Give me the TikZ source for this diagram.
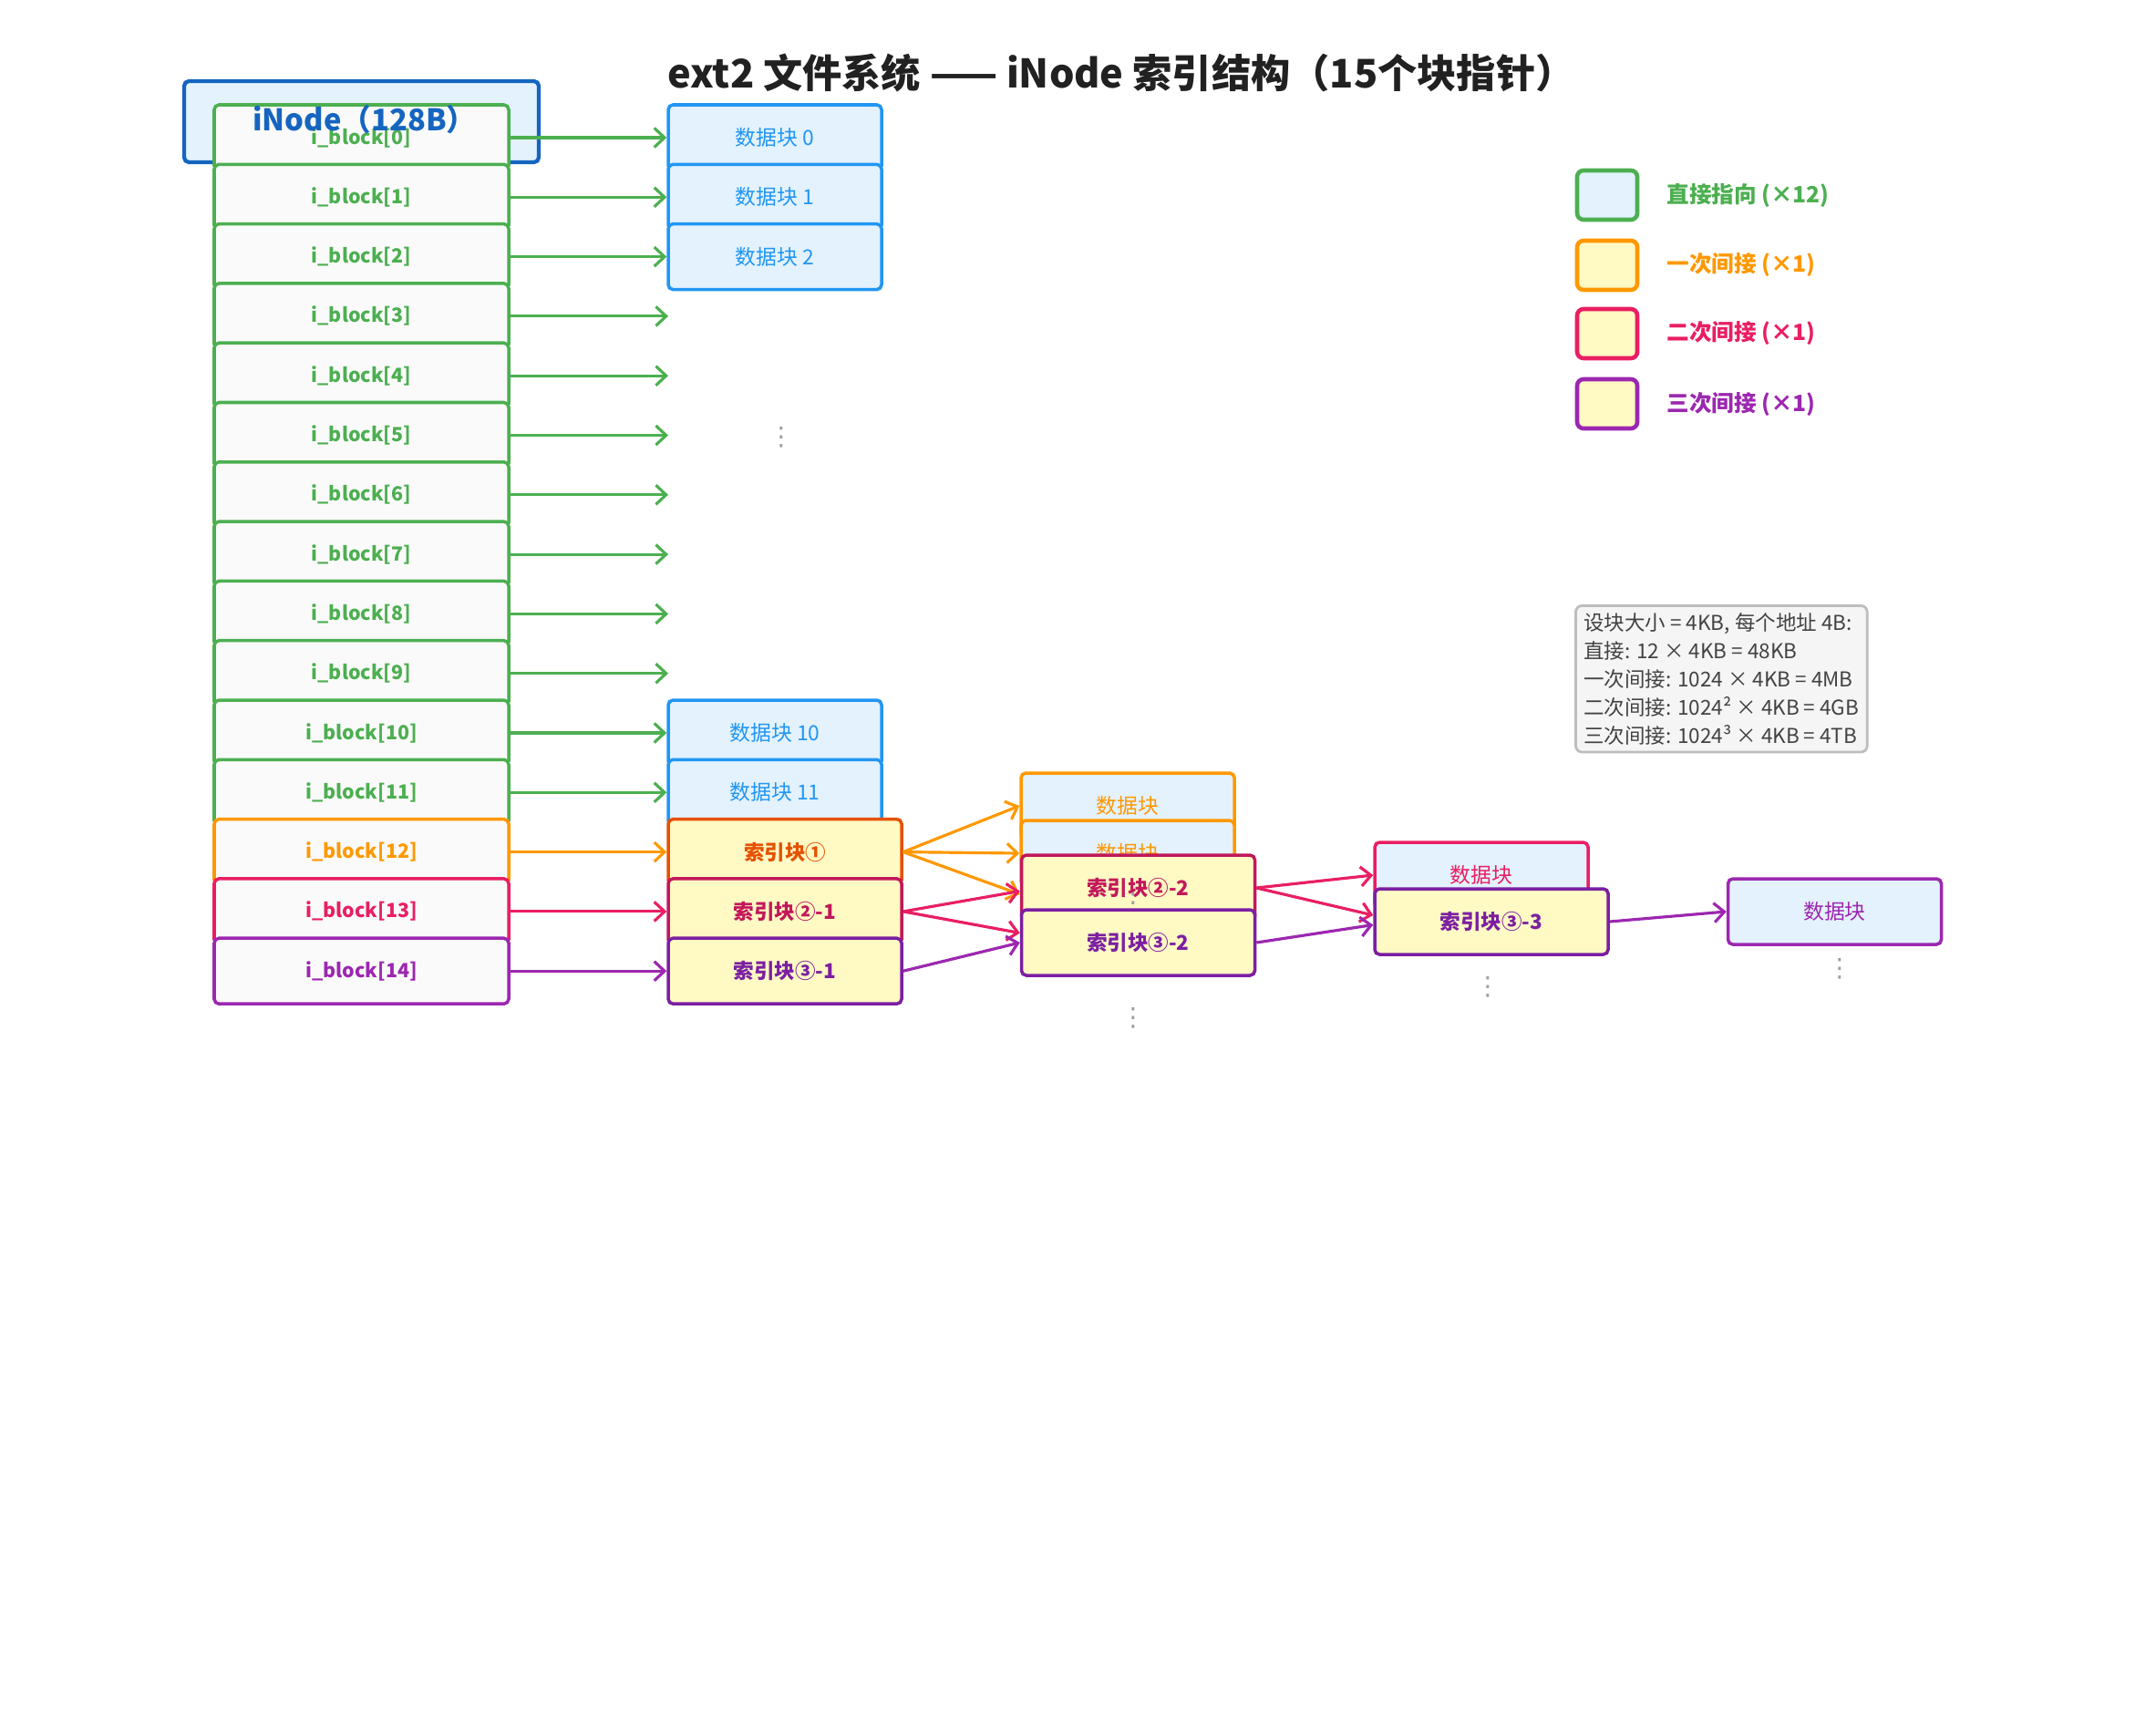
\documentclass[tikz,border=0pt]{standalone}
\usepackage{fontspec}
\setmainfont{Noto Sans CJK SC}
\newfontfamily\dotsfont{DejaVu Sans}
\usetikzlibrary{arrows.meta}

\definecolor{cgreen}{HTML}{4CAF50}
\definecolor{cblue}{HTML}{2196F3}
\definecolor{inodec}{HTML}{1565C0}
\definecolor{corange}{HTML}{FF9800}
\definecolor{dorange}{HTML}{E65100}
\definecolor{cpink}{HTML}{E91E63}
\definecolor{dpink}{HTML}{C2185B}
\definecolor{cpurple}{HTML}{9C27B0}
\definecolor{dpurple}{HTML}{7B1FA2}
\definecolor{databg}{HTML}{E3F2FD}
\definecolor{idxbg}{HTML}{FFF9C4}
\definecolor{slotbg}{HTML}{FAFAFA}
\definecolor{infobg}{HTML}{F5F5F5}
\definecolor{infob}{HTML}{BDBDBD}
\definecolor{infot}{HTML}{424242}
\definecolor{titlec}{HTML}{212121}
\definecolor{dotc}{HTML}{9E9E9E}

\begin{document}
\begin{tikzpicture}
\tikzstyle{box}=[draw, rounded corners=1.5pt, line width=1pt, minimum height=0.72cm, inner sep=0pt]
\tikzstyle{slot}=[box, fill=slotbg, minimum width=3.23cm, font=\fontsize{6.1}{7}\selectfont\bfseries]
\tikzstyle{direct}=[slot, draw=cgreen, text=cgreen]
\tikzstyle{data}=[box, fill=databg, draw=cblue, text=cblue, minimum width=2.34cm, font=\fontsize{6.5}{7.5}\selectfont]
\tikzstyle{index}=[box, fill=idxbg, minimum width=2.56cm, font=\fontsize{6.4}{7.5}\selectfont\bfseries]
\tikzstyle{arr}=[-{Straight Barb[length=3.2pt,width=6pt]}, line width=0.9pt]
\tikzstyle{vdots}=[text=dotc, font=\dotsfont\fontsize{8}{8}\selectfont]
\tikzstyle{legbox}=[draw, rounded corners=2pt, line width=1.3pt, minimum width=0.66cm, minimum height=0.54cm]
\tikzstyle{legtxt}=[anchor=west, font=\fontsize{7}{8.5}\selectfont\bfseries]

\useasboundingbox (0,0) rectangle (23.65,-18.88);

\node[font=\fontsize{12.3}{14}\selectfont\bfseries, text=titlec] (title) at (12.30,-0.80) {ext2 文件系统 —— iNode 索引结构（15个块指针）};

% inode and its 15 pointers
\node[box, draw=inodec, fill=databg, line width=1.2pt, minimum width=3.89cm, minimum height=0.89cm] (inode) at (3.965,-1.335) {};
\node[direct] (blk0) at (3.965,-1.510) {i\_block[0]};
\node[direct] (blk1) at (3.965,-2.163) {i\_block[1]};
\node[direct] (blk2) at (3.965,-2.816) {i\_block[2]};
\node[direct] (blk3) at (3.965,-3.469) {i\_block[3]};
\node[direct] (blk4) at (3.965,-4.122) {i\_block[4]};
\node[direct] (blk5) at (3.965,-4.775) {i\_block[5]};
\node[direct] (blk6) at (3.965,-5.428) {i\_block[6]};
\node[direct] (blk7) at (3.965,-6.081) {i\_block[7]};
\node[direct] (blk8) at (3.965,-6.734) {i\_block[8]};
\node[direct] (blk9) at (3.965,-7.387) {i\_block[9]};
\node[direct] (blk10) at (3.965,-8.040) {i\_block[10]};
\node[direct] (blk11) at (3.965,-8.693) {i\_block[11]};
\node[slot, draw=corange, text=corange] (blk12) at (3.965,-9.346) {i\_block[12]};
\node[slot, draw=cpink, text=cpink] (blk13) at (3.965,-9.999) {i\_block[13]};
\node[slot, draw=cpurple, text=cpurple] (blk14) at (3.965,-10.652) {i\_block[14]};
\node[text=inodec, font=\fontsize{9.3}{11}\selectfont\bfseries] (inodetxt) at (4.0,-1.31) {iNode（128B）};

% first level
\node[data] (dat0) at (8.50,-1.510) {数据块 0};
\node[data] (dat1) at (8.50,-2.163) {数据块 1};
\node[data] (dat2) at (8.50,-2.816) {数据块 2};
\coordinate (end3) at (7.33,-3.469); \coordinate (end4) at (7.33,-4.122); \coordinate (end5) at (7.33,-4.775); \coordinate (end6) at (7.33,-5.428);
\coordinate (end7) at (7.33,-6.081); \coordinate (end8) at (7.33,-6.734); \coordinate (end9) at (7.33,-7.387);
\node[vdots] (dots1) at (8.57,-4.80) {⋮};
\node[data] (dat10) at (8.50,-8.040) {数据块 10};
\node[data] (dat11) at (8.50,-8.693) {数据块 11};
\node[index, draw=dorange, text=dorange] (idx1) at (8.61,-9.346) {索引块①};
\node[index, draw=dpink, text=dpink] (idx21) at (8.61,-9.999) {索引块②-1};
\node[index, draw=dpurple, text=dpurple] (idx31) at (8.61,-10.652) {索引块③-1};

% second level
\node[data, draw=corange, text=corange] (dat1a) at (12.37,-8.84) {数据块};
\node[data, draw=corange, text=corange] (dat1b) at (12.37,-9.36) {数据块};
\node[index, draw=dpink, text=dpink] (idx22) at (12.485,-9.74) {索引块②-2};
\node[vdots] (dots2) at (12.43,-9.91) {⋮};
\node[index, draw=dpurple, text=dpurple] (idx32) at (12.485,-10.34) {索引块③-2};
\node[vdots] (dots3) at (12.43,-11.17) {⋮};

% third and fourth level
\node[data, draw=cpink, text=cpink] (dat2a) at (16.25,-9.60) {数据块};
\node[index, draw=dpurple, text=dpurple] (idx33) at (16.36,-10.11) {索引块③-3};
\node[vdots] (dots4) at (16.32,-10.83) {⋮};
\node[data, draw=cpurple, text=cpurple] (dat3a) at (20.125,-10.00) {数据块};
\node[vdots] (dots5) at (20.18,-10.63) {⋮};

% pointers
\draw[arr, cgreen] (blk0) -- (dat0);
\draw[arr, cgreen] (blk1) -- (dat1);
\draw[arr, cgreen] (blk2) -- (dat2);
\draw[arr, cgreen] (blk3) -- (end3);
\draw[arr, cgreen] (blk4) -- (end4);
\draw[arr, cgreen] (blk5) -- (end5);
\draw[arr, cgreen] (blk6) -- (end6);
\draw[arr, cgreen] (blk7) -- (end7);
\draw[arr, cgreen] (blk8) -- (end8);
\draw[arr, cgreen] (blk9) -- (end9);
\draw[arr, cgreen] (blk10) -- (dat10);
\draw[arr, cgreen] (blk11) -- (dat11);
\draw[arr, corange] (blk12) -- (idx1);
\draw[arr, cpink] (blk13) -- (idx21);
\draw[arr, cpurple] (blk14) -- (idx31);
\draw[arr, corange] (idx1.east) -- (dat1a.west);
\draw[arr, corange] (idx1.east) -- (dat1b.west);
\draw[arr, corange] (idx1.east) -- ([yshift=-2pt]idx22.west);
\draw[arr, cpink] (idx21.east) -- ([yshift=-1pt]idx22.west);
\draw[arr, cpink] (idx21.east) -- ([yshift=3pt]idx32.west);
\draw[arr, cpurple] (idx31.east) -- (idx32.west);
\draw[arr, cpink] (idx22.east) -- (dat2a.west);
\draw[arr, cpink] (idx22.east) -- ([yshift=2pt]idx33.west);
\draw[arr, cpurple] (idx32.east) -- ([yshift=-1pt]idx33.west);
\draw[arr, cpurple] (idx33.east) -- (dat3a.west);

% legend
\node[legbox, draw=cgreen, fill=databg] (lg1) at (17.63,-2.14) {};
\node[legtxt, text=cgreen] (lt1) at (18.16,-2.14) {直接指向 (×12)};
\node[legbox, draw=corange, fill=idxbg] (lg2) at (17.63,-2.91) {};
\node[legtxt, text=corange] (lt2) at (18.16,-2.91) {一次间接 (×1)};
\node[legbox, draw=cpink, fill=idxbg] (lg3) at (17.63,-3.66) {};
\node[legtxt, text=cpink] (lt3) at (18.16,-3.66) {二次间接 (×1)};
\node[legbox, draw=cpurple, fill=idxbg] (lg4) at (17.63,-4.43) {};
\node[legtxt, text=cpurple] (lt4) at (18.16,-4.43) {三次间接 (×1)};

% capacity note
\node[draw=infob, fill=infobg, line width=0.8pt, rounded corners=2pt, anchor=north west, align=left, inner xsep=0.09cm, inner ysep=0.08cm, text=infot, font=\fontsize{6.4}{8.8}\selectfont] (note) at (17.27,-6.63) {设块大小 = 4KB, 每个地址 4B:\\直接: 12 × 4KB = 48KB\\一次间接: 1024 × 4KB = 4MB\\二次间接: 1024² × 4KB = 4GB\\三次间接: 1024³ × 4KB = 4TB};
\end{tikzpicture}
\end{document}
